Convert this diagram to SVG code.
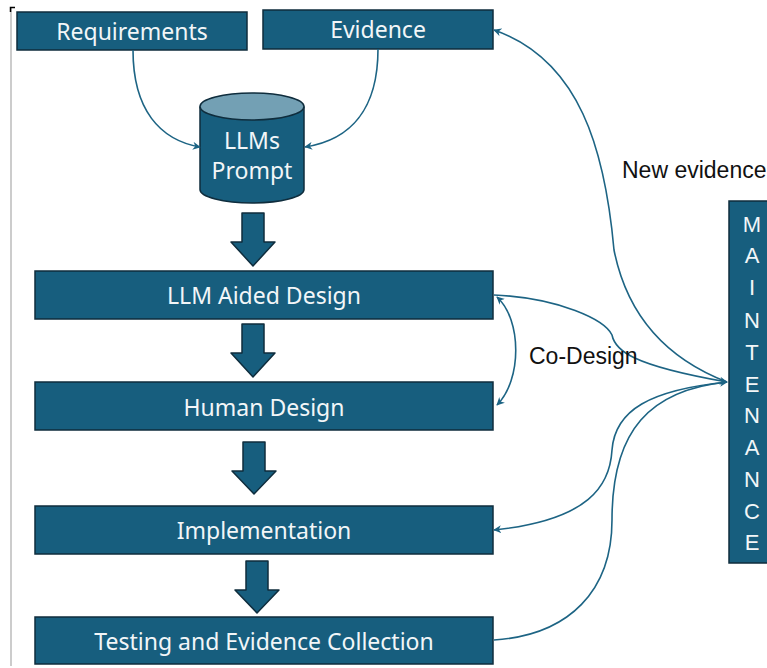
<svg xmlns="http://www.w3.org/2000/svg" width="767" height="668" viewBox="0 0 767 668">
<defs>
<style>
.box{fill:#175E7E;stroke:#0F2D3D;stroke-width:1.5}
.bt{font-family:"Noto Sans","Open Sans",sans-serif;font-size:23px;fill:#F2F6F8;text-anchor:middle}
.mt{font-family:"Liberation Sans",Arial,sans-serif;font-size:22px;fill:#F2F6F8;text-anchor:middle}
.lt{font-family:"Liberation Sans",Arial,sans-serif;font-size:23px;fill:#111}
.con{fill:none;stroke:#1D6484;stroke-width:1.6}
.blk{fill:#175E7E;stroke:#0F2D3D;stroke-width:1.5;stroke-linejoin:round}
</style>
<marker id="ah" viewBox="0 0 10 10" refX="9" refY="5" markerWidth="8" markerHeight="8" markerUnits="userSpaceOnUse" orient="auto-start-reverse">
<path d="M0,0 L10,5 L0,10 L3,5 Z" fill="#1D6484"/>
</marker>
</defs>
<rect width="767" height="668" fill="#fff"/>
<line x1="11" y1="8" x2="11" y2="666" stroke="#999" stroke-width="1"/>
<path d="M10.5 12 V7.5 H15" fill="none" stroke="#000" stroke-width="1.5"/>

<g id="requirements"><rect class="box" x="17" y="12" width="230" height="38"/><text class="bt" x="132" y="40">Requirements</text></g>
<g id="evidence"><rect class="box" x="263" y="10" width="230" height="39"/><text class="bt" x="378" y="38">Evidence</text></g>
<g id="llms-prompt">
<path class="box" d="M200 106.5 V189.5 A52 13.5 0 0 0 304 189.5 V106.5"/>
<ellipse cx="252" cy="106.5" rx="52" ry="13.5" fill="#73A0B4" stroke="#0F2D3D" stroke-width="1.5"/>
<text class="bt" x="252" y="149">LLMs</text><text class="bt" x="252" y="179">Prompt</text>
</g>
<g id="llm-aided-design"><rect class="box" x="35" y="271" width="458" height="48"/><text class="bt" x="264" y="304">LLM Aided Design</text></g>
<g id="human-design"><rect class="box" x="35" y="382" width="458" height="48"/><text class="bt" x="264" y="416">Human Design</text></g>
<g id="implementation"><rect class="box" x="35" y="506" width="458" height="48"/><text class="bt" x="264" y="539">Implementation</text></g>
<g id="testing"><rect class="box" x="35" y="617" width="458" height="47"/><text class="bt" x="264" y="650">Testing and Evidence Collection</text></g>
<g id="maintenance"><rect class="box" x="729" y="201" width="45" height="362"/>
<g class="mt">
<text x="752" y="232">M</text><text x="752" y="263">A</text><text x="752" y="295">I</text><text x="752" y="328">N</text><text x="752" y="360">T</text><text x="752" y="392">E</text><text x="752" y="423">N</text><text x="752" y="455">A</text><text x="752" y="487">N</text><text x="752" y="519">C</text><text x="752" y="550">E</text>
</g></g>

<g id="block-arrows">
<polygon class="blk" points="242,213 264,213 264,242 275,242 253,266 231,242 242,242"/>
<polygon class="blk" points="242,324 264,324 264,353 275,353 253,377 231,353 242,353"/>
<polygon class="blk" points="243,442 265,442 265,471 276,471 254,494 232,471 243,471"/>
<polygon class="blk" points="246,561 268,561 268,590 279,590 257,613 235,590 246,590"/>
</g>

<g id="connectors">
<path class="con" marker-end="url(#ah)" d="M133 50 C133 110 160 140 200 147"/>
<path class="con" marker-end="url(#ah)" d="M378 49 C378 110 350 140 305 147"/>
<path class="con" marker-end="url(#ah)" d="M727 382 C670 360 628 320 614 250 C605 150 580 60 494 30"/>
<path class="con" marker-end="url(#ah)" d="M494 295 C560 298 605 320 612 335 C615 350 630 365 727 382"/>
<path class="con" marker-start="url(#ah)" marker-end="url(#ah)" d="M497 297 C522 320 522 380 497 405"/>
<path class="con" marker-end="url(#ah)" d="M727 382 C650 390 615 410 612 450 C610 485 590 520 494 530"/>
<path class="con" marker-end="url(#ah)" d="M494 640 C570 635 612 590 612 520 C612 430 650 390 727 382"/>
</g>

<text class="lt" x="622" y="178">New evidence</text>
<text class="lt" x="529" y="364">Co-Design</text>
</svg>
